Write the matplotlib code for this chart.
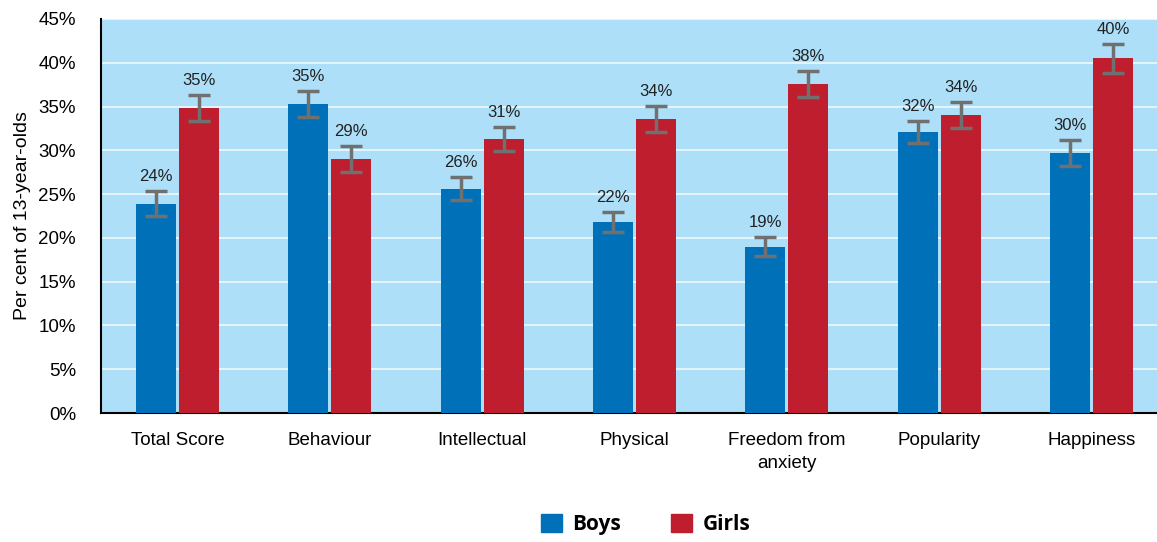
import matplotlib.pyplot as plt
import numpy as np
from matplotlib.patches import Patch

plt.rcParams['font.family'] = ['Liberation Sans', 'DejaVu Sans']

categories = ['Total Score', 'Behaviour', 'Intellectual', 'Physical',
              'Freedom from\nanxiety', 'Popularity', 'Happiness']
boys = [23.9, 35.3, 25.6, 21.8, 19.0, 32.1, 29.7]
girls = [34.8, 29.0, 31.3, 33.6, 37.6, 34.0, 40.5]
boys_err = [1.4, 1.5, 1.3, 1.15, 1.1, 1.25, 1.5]
girls_err = [1.5, 1.5, 1.4, 1.5, 1.5, 1.5, 1.65]
boys_labels = ['24%', '35%', '26%', '22%', '19%', '32%', '30%']
girls_labels = ['35%', '29%', '31%', '34%', '38%', '34%', '40%']

boy_col = '#0070b8'
girl_col = '#be1e2d'
bg = '#ade0f8'

fig = plt.figure(figsize=(11.57, 5.42), dpi=100)
ax = fig.add_axes([0.0873, 0.238, 0.9127, 0.727])
ax.set_facecolor(bg)

x = np.arange(len(categories))
w = 0.263
off = 0.141
err_kw = dict(ecolor='#707070', elinewidth=2.5, capsize=8, capthick=2.5)
ax.bar(x - off, boys, w, color=boy_col, yerr=boys_err, error_kw=err_kw, zorder=3)
ax.bar(x + off, girls, w, color=girl_col, yerr=girls_err, error_kw=err_kw, zorder=3)

for xi, v, e, lab in zip(x - off, boys, boys_err, boys_labels):
    ax.text(xi, v + e + 0.8, lab, ha='center', va='bottom', fontsize=12, color='#222222')
for xi, v, e, lab in zip(x + off, girls, girls_err, girls_labels):
    ax.text(xi, v + e + 0.8, lab, ha='center', va='bottom', fontsize=12, color='#222222')

ax.set_xlim(-0.502, 6.43)
ax.set_ylim(0, 45)
ax.set_yticks(range(0, 46, 5))
ax.set_yticklabels([f'{t}%' for t in range(0, 46, 5)], fontsize=13.5)
ax.set_xticks(x)
ax.set_xticklabels(categories, fontsize=13.5, va='top', linespacing=1.45)
ax.tick_params(length=0)
ax.tick_params(axis='y', pad=18)
ax.tick_params(axis='x', pad=14)
ax.yaxis.grid(True, color='white', linewidth=1.2, alpha=0.8, zorder=1)
ax.set_axisbelow(True)
for s in ['top', 'right']:
    ax.spines[s].set_visible(False)
ax.spines['left'].set_linewidth(1.5)
ax.spines['bottom'].set_linewidth(1.5)
ax.set_ylabel('Per cent of 13-year-olds', fontsize=14, labelpad=5)

handles = [Patch(color=boy_col, label='Boys'), Patch(color=girl_col, label='Girls')]
fig.legend(handles=handles, loc='lower center', bbox_to_anchor=(0.558, -0.022), ncol=2,
           frameon=False, prop={'family': 'Open Sans', 'weight': 'bold', 'size': 15},
           handlelength=1.0, handleheight=1.0, columnspacing=2.4, handletextpad=0.5)

fig.savefig('out.png', dpi=100)
